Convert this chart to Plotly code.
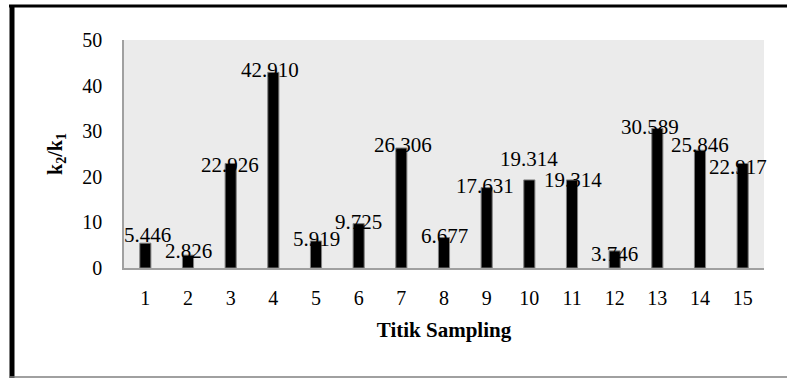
import plotly.graph_objects as go

categories = [str(i) for i in range(1, 16)]
ratios = [5.446, 2.826, 22.926, 42.910, 5.919, 9.725, 26.306, 6.677,
          17.631, 19.314, 19.314, 3.746, 30.589, 25.846, 22.917]
y_ticks = [0, 10, 20, 30, 40, 50]

# label nudges in pixels (styling only)
label_dy = [8, 4, -1.5, 2, 2.5, 2, 3, 2, 2, 21, 0, -3, 2, 5, -3]
label_dx = [2, 0, -1, -3, 0, 0, 2, 0, -2, 0, 1, 0, -7, 0, -5]

FONT = "Liberation Serif"

fig = go.Figure()
fig.add_trace(go.Bar(
    x=categories, y=ratios, width=0.26,
    marker=dict(color="black", line=dict(color="#7f7f7f", width=1)),
    hoverinfo="skip",
))

# on a category axis, annotation x is the category index
for i, (v, dy, dx) in enumerate(zip(ratios, label_dy, label_dx)):
    fig.add_annotation(x=i, y=v, text=f"{v:.3f}", showarrow=False,
                       xanchor="center", yanchor="middle",
                       yshift=dy, xshift=dx,
                       font=dict(family=FONT, size=21, color="black"))

L, R, T, B = 124, 23, 40, 110
W, H = 787, 378
pw, ph = W - L - R, H - T - B

def px(x):
    return (x - L) / pw

def py(y):
    return (H - B - y) / ph

shapes = [
    dict(type="line", xref="paper", yref="paper", x0=px(9), x1=px(787), y0=py(6), y1=py(6),
         line=dict(color="black", width=3)),
    dict(type="line", xref="paper", yref="paper", x0=px(12), x1=px(12), y0=py(5), y1=py(378),
         line=dict(color="black", width=5)),
    dict(type="line", xref="paper", yref="paper", x0=px(9), x1=px(787), y0=py(377), y1=py(377),
         line=dict(color="#808080", width=1.5)),
]

fig.update_layout(
    width=W, height=H,
    margin=dict(l=L, r=R, t=T, b=B),
    paper_bgcolor="white", plot_bgcolor="#EBEBEB",
    showlegend=False,
    shapes=shapes,
    font=dict(family=FONT, color="black"),
    xaxis=dict(
        type="category", range=[-0.5, len(categories) - 0.5],
        showgrid=False, showline=True, linecolor="#A0A0A0", linewidth=1.5,
        ticks="outside", ticklen=11, tickcolor="rgba(0,0,0,0)",
        tickfont=dict(family=FONT, size=20),
        title=dict(text="<b>Titik Sampling</b>", font=dict(family=FONT, size=21), standoff=15),
    ),
    yaxis=dict(
        range=[0, 50], tickvals=y_ticks, showgrid=False, zeroline=False,
        showline=True, linecolor="#A0A0A0", linewidth=1.5,
        ticks="outside", ticklen=16, tickcolor="rgba(0,0,0,0)",
        tickfont=dict(family=FONT, size=20),
        title=dict(text="<b>k<sub>2</sub>/k<sub>1</sub></b>", font=dict(family=FONT, size=20), standoff=14),
    ),
)

fig.write_html("out.html")
